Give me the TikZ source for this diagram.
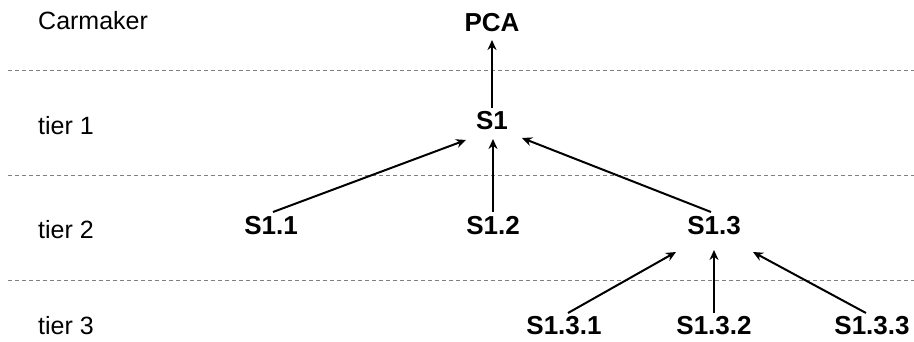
\documentclass[tikz,border=0pt]{standalone}
\usepackage{fontspec}
\setmainfont{Liberation Sans}
\usetikzlibrary{arrows.meta,calc}
\begin{document}
\begin{tikzpicture}[x=1pt,y=-1pt,
  tierlabel/.style={anchor=west,inner sep=0pt,font=\fontsize{25}{28}\selectfont},
  unit/.style={inner sep=0pt,font=\fontsize{26}{29}\selectfont\bfseries},
  sep/.style={draw=black!50,line width=1pt,dash pattern=on 4pt off 3pt},
  link/.style={draw=black,line width=2pt,-{Stealth[length=10pt,width=9pt]}}]
\useasboundingbox (0,0) rectangle (914,341);

% tier separators
\draw[sep] (8,70) -- (914,70);
\draw[sep] (8,175) -- (914,175);
\draw[sep] (8,280) -- (914,280);

% tier names
\node[tierlabel] (lc) at (38,21) {Carmaker};
\node[tierlabel] (l1) at (38,126) {tier 1};
\node[tierlabel] (l2) at (38,230) {tier 2};
\node[tierlabel] (l3) at (38,326) {tier 3};

% supply chain units
\node[unit] (pca) at (492,23) {PCA};
\node[unit] (s1) at (492,121) {S1};
\node[unit] (s11) at (271,226) {S1.1};
\node[unit] (s12) at (493,226) {S1.2};
\node[unit] (s13) at (714,226) {S1.3};
\node[unit] (s131) at (564,326) {S1.3.1};
\node[unit] (s132) at (714,326) {S1.3.2};
\node[unit] (s133) at (872,326) {S1.3.3};

% deliveries up the chain
\draw[link] ($(s1.center)+(0,-13)$) -- ($(pca.center)+(0,17)$);
\draw[link] ($(s11.center)+(2,-14)$) -- ($(s1.center)+(-26,19)$);
\draw[link] ($(s12.center)+(0,-14)$) -- ($(s1.center)+(1,18)$);
\draw[link] ($(s13.center)+(-3,-14)$) -- ($(s1.center)+(30,17)$);
\draw[link] ($(s131.center)+(4,-13)$) -- ($(s13.center)+(-38,26)$);
\draw[link,line width=2.8pt] ($(s132.center)+(0,-13)$) -- ($(s13.center)+(0,24)$);
\draw[link] ($(s133.center)+(-6,-13)$) -- ($(s13.center)+(39,26)$);
\end{tikzpicture}
\end{document}
